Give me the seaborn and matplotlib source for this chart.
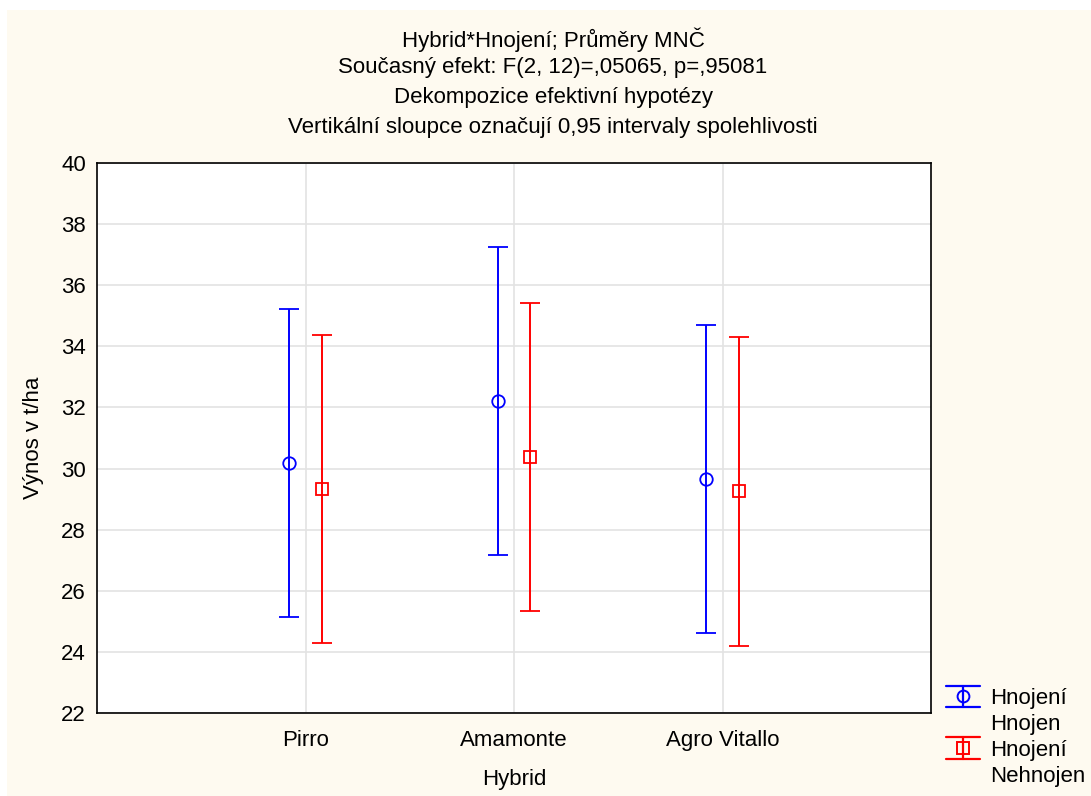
import matplotlib
matplotlib.use("Agg")
import matplotlib.pyplot as plt
import seaborn as sns
import numpy as np
from matplotlib.patches import Rectangle
from matplotlib.lines import Line2D
from matplotlib.legend_handler import HandlerBase

# ---- data ----
hybrids = ["Pirro", "Amamonte", "Agro Vitallo"]
group_first = ["Hnojení", "Hnojení"]
group_second = ["Hnojen", "Nehnojen"]
means_hnojen = [30.18, 32.21, 29.66]
lower_hnojen = [25.14, 27.17, 24.62]
upper_hnojen = [35.22, 37.25, 34.70]
means_nehnojen = [29.33, 30.38, 29.27]
lower_nehnojen = [24.29, 25.34, 24.19]
upper_nehnojen = [34.37, 35.42, 34.31]
yticks = [22, 24, 26, 28, 30, 32, 34, 36, 38, 40]
titles = ["Hybrid*Hnojení; Průměry MNČ",
          "Současný efekt: F(2, 12)=,05065, p=,95081",
          "Dekompozice efektivní hypotézy",
          "Vertikální sloupce označují 0,95 intervaly spolehlivosti"]

sns.set_theme(style="whitegrid")
plt.rcParams['font.family'] = ['Liberation Sans', 'DejaVu Sans']
plt.rcParams['text.color'] = 'black'
FS = 16

cream = "#FEFAF0"
fig = plt.figure(figsize=(10.91, 7.96), dpi=100, facecolor="white")
fig.patches.append(Rectangle((7/1091, 0), 1, (796-10)/796, transform=fig.transFigure,
                             facecolor=cream, edgecolor="none", zorder=-10))
ax = fig.add_axes([97/1091, 83/796, (931-97)/1091, (713-163)/796])
ax.set_facecolor("white")

x = np.arange(len(hybrids))
off = 0.077
series = [
    (means_hnojen, lower_hnojen, upper_hnojen, "#0000FF", "o", -off),
    (means_nehnojen, lower_nehnojen, upper_nehnojen, "#FF0000", "s", off),
]
for m, lo, up, col, mk, dx in series:
    m = np.array(m); lo = np.array(lo); up = np.array(up)
    ax.errorbar(x + dx, m, yerr=[m - lo, up - m], fmt=mk, color=col, ecolor=col,
                mfc="none", mec=col, ms=9, mew=1.3, elinewidth=1.4, capsize=7.5,
                capthick=1.4, zorder=3)

ax.set_xlim(-1, 3)
ax.set_ylim(22, 40)
ax.set_xticks(x)
ax.set_xticklabels(hybrids)
ax.set_yticks(yticks)
ax.grid(True, color="#E3E3E3", linewidth=1.2)
for s in ax.spines.values():
    s.set_color("black")
    s.set_linewidth(1.2)
ax.tick_params(axis="both", direction="in", length=4, width=1, color="black",
               labelsize=FS, labelcolor="black", pad=8)
ax.tick_params(axis="x", pad=12)
ax.set_xlabel("Hybrid", fontsize=FS, color="black", labelpad=13)
ax.set_ylabel("Výnos v t/ha", fontsize=FS, color="black", labelpad=12)

for i, t in enumerate(titles):
    fig.text(553/1091, 1 - [40, 68, 97, 127][i]/796, t, ha="center", va="center",
             fontsize=FS, color="black")


# ---- legend with long-capped error bar handles ----
class EBProxy:
    def __init__(self, color, marker):
        self.color = color
        self.marker = marker


class EmptyProxy:
    pass


class EBHandler(HandlerBase):
    def create_artists(self, legend, h, xd, yd, w, hgt, fs, trans):
        x0, x1 = -xd, -xd + w
        yc = -yd + hgt / 2
        y0, y1 = yc - 7.6, yc + 7.6
        xc = (x0 + x1) / 2
        arts = [
            Line2D([x0, x1], [y1, y1], color=h.color, lw=1.6),
            Line2D([x0, x1], [y0, y0], color=h.color, lw=1.6),
            Line2D([xc, xc], [y0, y1], color=h.color, lw=1.6),
            Line2D([xc], [yc], marker=h.marker, ms=8.5, mfc="none", mec=h.color,
                   mew=1.4, ls="none"),
        ]
        for a in arts:
            a.set_transform(trans)
        return arts


class EmptyHandler(HandlerBase):
    def create_artists(self, legend, h, xd, yd, w, hgt, fs, trans):
        a = Line2D([], [], color="none")
        a.set_transform(trans)
        return [a]


handles = [EBProxy("#0000FF", "o"), EmptyProxy(), EBProxy("#FF0000", "s"), EmptyProxy()]
labels = [group_first[0], group_second[0], group_first[1], group_second[1]]
fig.legend(handles, labels, loc="upper left", bbox_to_anchor=(946/1091, 1 - 688/796),
           frameon=False, fontsize=FS, handlelength=1.55, handletextpad=0.45,
           labelspacing=0.22, borderaxespad=0, borderpad=0, labelcolor="black",
           handler_map={EBProxy: EBHandler(), EmptyProxy: EmptyHandler()})

fig.savefig("out.png", dpi=100, facecolor=fig.get_facecolor())
